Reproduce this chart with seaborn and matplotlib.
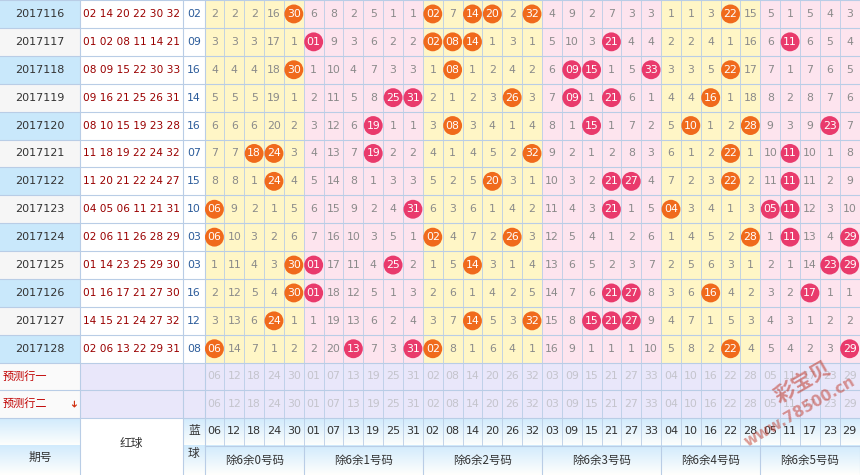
import numpy as np
import pandas as pd
import matplotlib
matplotlib.use("Agg")
import matplotlib.pyplot as plt
import seaborn as sns
from matplotlib.patches import Rectangle

issues = ["2017116","2017117","2017118","2017119","2017120","2017121","2017122",
          "2017123","2017124","2017125","2017126","2017127","2017128"]
red_balls = ["02 14 20 22 30 32","01 02 08 11 14 21","08 09 15 22 30 33","09 16 21 25 26 31",
             "08 10 15 19 23 28","11 18 19 22 24 32","11 20 21 22 24 27","04 05 06 11 21 31",
             "02 06 11 26 28 29","01 14 23 25 29 30","01 16 17 21 27 30","14 15 21 24 27 32",
             "02 06 13 22 29 31"]
blue_balls = ["02","09","16","14","16","07","15","10","03","03","16","12","08"]
columns = ["06","12","18","24","30","01","07","13","19","25","31","02","08","14","20","26","32",
           "03","09","15","21","27","33","04","10","16","22","28","05","11","17","23","29"]
groups = ["除6余0号码","除6余1号码","除6余2号码","除6余3号码","除6余4号码","除6余5号码"]
group_sizes = [5, 6, 6, 6, 5, 5]
# omission counts, 0 = drawn this issue
omission = [
 [2,2,2,16,0, 6,8,2,5,1,1, 0,7,0,0,2,0, 4,9,2,7,3,3, 1,1,3,0,15, 5,1,5,4,3],
 [3,3,3,17,1, 0,9,3,6,2,2, 0,0,0,1,3,1, 5,10,3,0,4,4, 2,2,4,1,16, 6,0,6,5,4],
 [4,4,4,18,0, 1,10,4,7,3,3, 1,0,1,2,4,2, 6,0,0,1,5,0, 3,3,5,0,17, 7,1,7,6,5],
 [5,5,5,19,1, 2,11,5,8,0,0, 2,1,2,3,0,3, 7,0,1,0,6,1, 4,4,0,1,18, 8,2,8,7,6],
 [6,6,6,20,2, 3,12,6,0,1,1, 3,0,3,4,1,4, 8,1,0,1,7,2, 5,0,1,2,0, 9,3,9,0,7],
 [7,7,0,0,3, 4,13,7,0,2,2, 4,1,4,5,2,0, 9,2,1,2,8,3, 6,1,2,0,1, 10,0,10,1,8],
 [8,8,1,0,4, 5,14,8,1,3,3, 5,2,5,0,3,1, 10,3,2,0,0,4, 7,2,3,0,2, 11,0,11,2,9],
 [0,9,2,1,5, 6,15,9,2,4,0, 6,3,6,1,4,2, 11,4,3,0,1,5, 0,3,4,1,3, 0,0,12,3,10],
 [0,10,3,2,6, 7,16,10,3,5,1, 0,4,7,2,0,3, 12,5,4,1,2,6, 1,4,5,2,0, 1,0,13,4,0],
 [1,11,4,3,0, 0,17,11,4,0,2, 1,5,0,3,1,4, 13,6,5,2,3,7, 2,5,6,3,1, 2,1,14,0,0],
 [2,12,5,4,0, 0,18,12,5,1,3, 2,6,1,4,2,5, 14,7,6,0,0,8, 3,6,0,4,2, 3,2,0,1,1],
 [3,13,6,0,1, 1,19,13,6,2,4, 3,7,0,5,3,0, 15,8,0,0,0,9, 4,7,1,5,3, 4,3,1,2,2],
 [0,14,7,1,2, 2,20,0,7,3,0, 0,8,1,6,4,1, 16,9,1,1,1,10, 5,8,2,0,4, 5,4,2,3,0],
]

CJK = "Noto Sans CJK SC"
X0, CW = 204.5, 19.85
RH, NR = 27.9, len(issues)
group_of = np.repeat(np.arange(6), group_sizes)

fig = plt.figure(figsize=(8.6, 4.75), dpi=100)
ax = fig.add_axes([0, 0, 1, 1])

def cx(i): return X0 + (i + 0.5) * CW
def cy(r): return (r + 0.5) * RH

grid_c = "#b9cde6"
for r in range(NR):
    ax.add_patch(Rectangle((0, r*RH), 80, RH, fc="#c9e8fb" if r % 2 == 0 else "#f6f6f6", ec="none"))
    ax.add_patch(Rectangle((80, r*RH), 124.5, RH, fc="white", ec="none"))
    ax.text(40, cy(r), issues[r], ha="center", va="center", fontsize=8, color="#333333")
    ax.text(131.5, cy(r), red_balls[r], ha="center", va="center", fontsize=7.6, color="#9a0000")
    ax.text(194, cy(r), blue_balls[r], ha="center", va="center", fontsize=7.8, color="#2b5b9a")
for i in range(len(columns)):
    fc = "#fff6c6" if group_of[i] % 2 == 0 else "#fde4ee"
    ax.add_patch(Rectangle((X0 + i*CW, 0), CW, NR*RH, fc=fc, ec="none"))
for r in range(NR):
    for i in range(len(columns)):
        v = omission[r][i]
        if v:
            ax.text(cx(i), cy(r), str(v), ha="center", va="center", fontsize=7.8, color="#8a8a8a")
hits = [(cx(i), cy(r), columns[i], "odd" if group_of[i] % 2 else "even")
        for r in range(NR) for i in range(len(columns)) if omission[r][i] == 0]
df = pd.DataFrame(hits, columns=["x", "y", "num", "kind"])
sns.scatterplot(data=df, x="x", y="y", hue="kind", palette={"even": "#f06a1c", "odd": "#e93a6c"},
                s=185, edgecolor="none", legend=False, ax=ax, zorder=3)
for _, h in df.iterrows():
    ax.text(h.x, h.y, h.num, ha="center", va="center", fontsize=7.8, color="white", zorder=4)
ax.set_xlim(0, 860); ax.set_ylim(475, 0); ax.axis("off")

py = NR*RH
for k, lab in enumerate(["预测行一", "预测行二"]):
    y = py + k*27.5
    ax.add_patch(Rectangle((0, y), 80, 27.5, fc="#fafafa", ec="none"))
    ax.add_patch(Rectangle((80, y), 780, 27.5, fc="#e9e7fa", ec="none"))
    ax.text(3, y + 13.7, lab, ha="left", va="center", fontsize=8, color="#c00000", family=CJK)
    for i, c in enumerate(columns):
        ax.text(cx(i), y + 13.7, c, ha="center", va="center", fontsize=7.8, color="#c4c4cc")
ax.text(71, py + 27.5 + 13, "➜", rotation=-90, ha="center", va="center", fontsize=7, color="#d03010", family="DejaVu Sans")

hy = py + 55
grad = np.linspace(0, 1, 50)[:, None]
ax.imshow(np.dstack([0.82 + 0.18*grad, 0.92 + 0.08*grad, 0.99 + 0*grad]),
          extent=(0, 860, hy + 28, hy), aspect="auto", zorder=0.5)
ax.imshow(np.dstack([0.82 + 0.18*grad, 0.92 + 0.08*grad, 0.99 + 0*grad]),
          extent=(0, 860, 475, hy + 28), aspect="auto", zorder=0.5)
ax.add_patch(Rectangle((80, hy), 103, 475-hy, fc="white", ec="none", zorder=0.6))
ax.text(40, hy + 40, "期号", ha="center", va="center", fontsize=8.5, family=CJK, color="#333")
ax.text(131, hy + 26, "红球", ha="center", va="center", fontsize=8.5, family=CJK, color="#333")
ax.text(194, hy + 13, "蓝", ha="center", va="center", fontsize=8.5, family=CJK, color="#333")
ax.text(194, hy + 36, "球", ha="center", va="center", fontsize=8.5, family=CJK, color="#333")
for i, c in enumerate(columns):
    ax.text(cx(i), hy + 13, c, ha="center", va="center", fontsize=8, color="#333")
start = 0
for g, n in zip(groups, group_sizes):
    ax.text(X0 + (start + n/2)*CW, hy + 43, g, ha="center", va="center", fontsize=8.3, family=CJK, color="#333")
    start += n

for r in range(NR + 3):
    yy = r*RH if r <= NR else py + (r-NR)*27.5
    ax.plot([0, 860], [yy, yy], color=grid_c, lw=0.8, zorder=2)
ax.plot([X0, 860], [hy + 28, hy + 28], color=grid_c, lw=0.8, zorder=2)
for xx in [80, 183]:
    ax.plot([xx, xx], [0, 475], color=grid_c, lw=0.8, zorder=2)
ax.plot([X0, X0], [0, 475], color=grid_c, lw=0.8, zorder=2)
for i in range(1, len(columns) + 1):
    ax.plot([X0 + i*CW]*2, [0, hy + 28], color=grid_c, lw=0.6, zorder=2)
start = 0
for n in group_sizes:
    start += n
    ax.plot([X0 + start*CW]*2, [hy + 28, 475], color=grid_c, lw=0.8, zorder=2)

ax.text(803, 383, "彩宝贝", rotation=30, ha="center", va="center", fontsize=15, weight="bold",
        color="#c0392b", alpha=0.55, family=CJK, zorder=5)
ax.text(800, 412, "www.78500.cn", rotation=30, ha="center", va="center", fontsize=11, weight="bold",
        color="#c0392b", alpha=0.5, zorder=5)

fig.savefig("out.png", dpi=100)
